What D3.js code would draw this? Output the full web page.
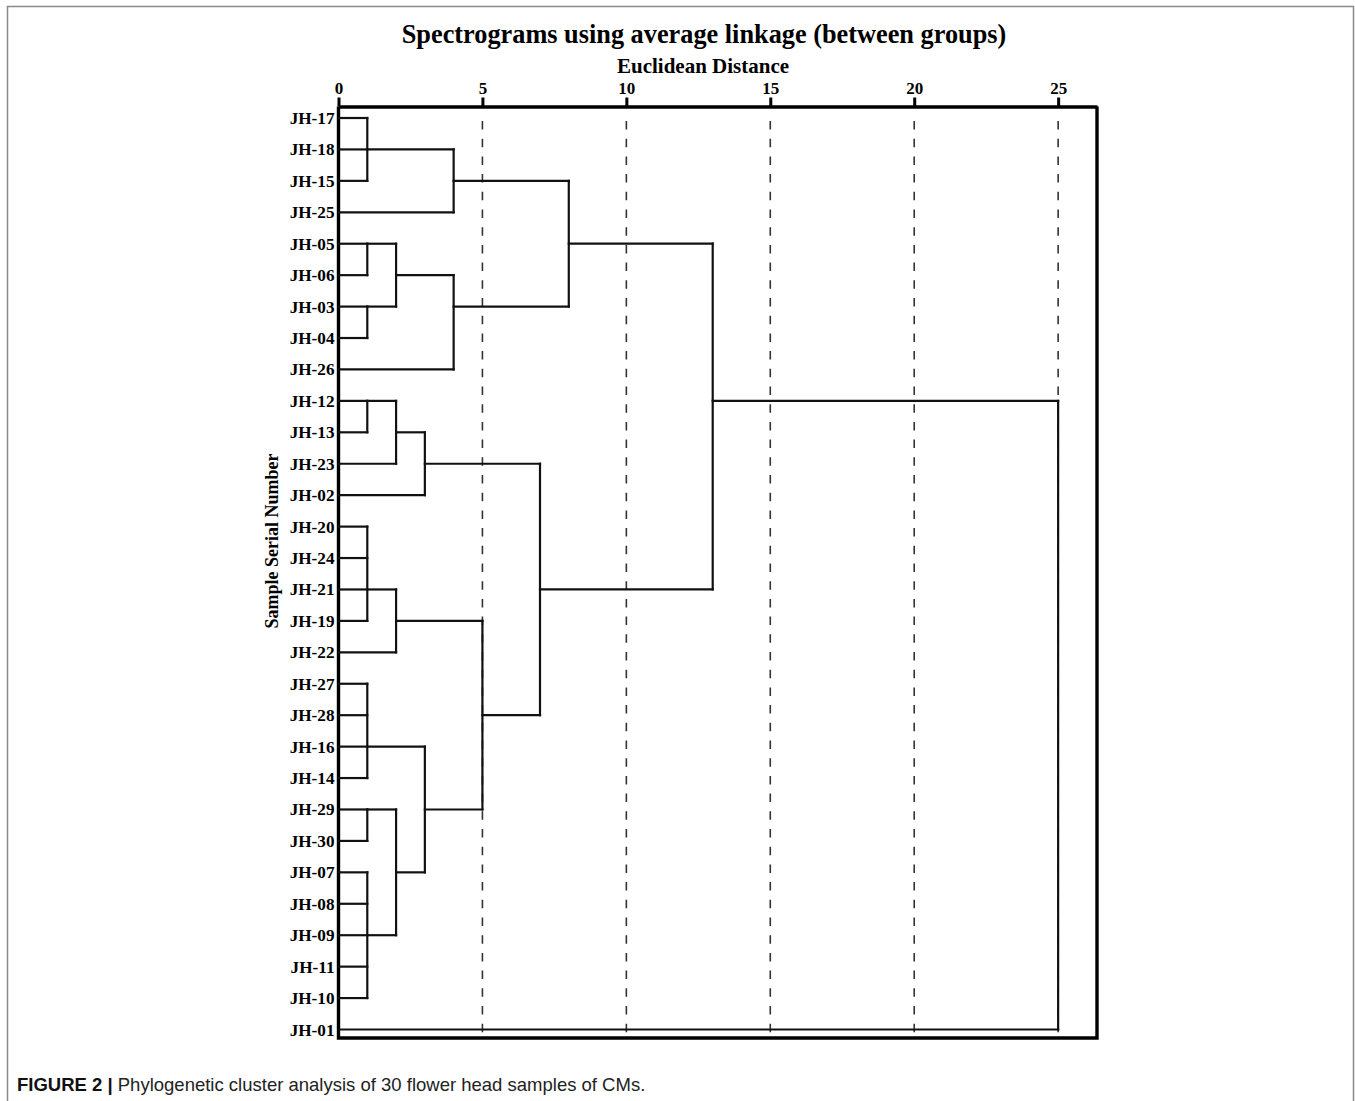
<!DOCTYPE html>
<html>
<head>
<meta charset="utf-8">
<script src="https://cdn.jsdelivr.net/npm/d3@7"></script>
<style>
  html, body { margin: 0; padding: 0; background: #fff; }
  svg { display: block; }
</style>
</head>
<body>
<svg id="chart" width="1355" height="1101"></svg>
<script>
// Leaf order, top to bottom
const leaves = [
  "JH-17", "JH-18", "JH-15", "JH-25", "JH-05", "JH-06", "JH-03", "JH-04", "JH-26",
  "JH-12", "JH-13", "JH-23", "JH-02", "JH-20", "JH-24", "JH-21", "JH-19", "JH-22",
  "JH-27", "JH-28", "JH-16", "JH-14", "JH-29", "JH-30", "JH-07", "JH-08", "JH-09",
  "JH-11", "JH-10", "JH-01"
];

// Cluster merges: [id, members, rescaled distance, leaf row where the cluster's stem leaves]
const merges = [
  ["A", ["JH-17", "JH-18", "JH-15"], 1, "JH-18"],
  ["B", ["A", "JH-25"], 4, "JH-15"],
  ["C", ["JH-05", "JH-06"], 1, "JH-05"],
  ["D", ["JH-03", "JH-04"], 1, "JH-03"],
  ["E", ["C", "D"], 2, "JH-06"],
  ["F", ["E", "JH-26"], 4, "JH-03"],
  ["G", ["B", "F"], 8, "JH-05"],
  ["H", ["JH-12", "JH-13"], 1, "JH-12"],
  ["I", ["H", "JH-23"], 2, "JH-13"],
  ["J", ["I", "JH-02"], 3, "JH-23"],
  ["K", ["JH-20", "JH-24", "JH-21", "JH-19"], 1, "JH-21"],
  ["L", ["K", "JH-22"], 2, "JH-19"],
  ["M", ["JH-27", "JH-28", "JH-16", "JH-14"], 1, "JH-16"],
  ["N", ["JH-29", "JH-30"], 1, "JH-29"],
  ["O", ["JH-07", "JH-08", "JH-09", "JH-11", "JH-10"], 1, "JH-09"],
  ["P", ["N", "O"], 2, "JH-07"],
  ["Q", ["M", "P"], 3, "JH-29"],
  ["R", ["L", "Q"], 5, "JH-28"],
  ["S", ["J", "R"], 7, "JH-21"],
  ["T", ["G", "S"], 13, "JH-12"],
  ["U", ["T", "JH-01"], 25, null]
];

const distanceTicks = [0, 5, 10, 15, 20, 25];
const gridTicks = [5, 10, 15, 20, 25];

const titleText = "Spectrograms using average linkage (between groups)";
const xTitle = "Euclidean Distance";
const yTitle = "Sample Serial Number";
const captionLead = "FIGURE 2 |";
const captionBody = " Phylogenetic cluster analysis of 30 flower head samples of CMs.";

const serif = "'Liberation Serif', 'Times New Roman', serif";
const sans = "'Liberation Sans', Arial, sans-serif";

const svg = d3.select("#chart");

// Outer figure frame
svg.append("path")
  .attr("d", "M7.5,1101 V6.5 H1353.5 V1101")
  .attr("fill", "none")
  .attr("stroke", "#8a8a8a")
  .attr("stroke-width", 1.5);

const box = { left: 338.5, right: 1097, top: 106.5, bottom: 1038 };

const x = d3.scaleLinear().domain([0, 26.35]).range([box.left, box.right]);
const y = d3.scalePoint().domain(leaves).range([118, 1029.5]);

// Dashed reference lines
svg.append("g").selectAll("line").data(gridTicks).join("line")
  .attr("x1", d => x(d)).attr("x2", d => x(d))
  .attr("y1", 121).attr("y2", box.bottom)
  .attr("stroke", "#333")
  .attr("stroke-width", 1.6)
  .attr("stroke-dasharray", "8.5 9.2");

// Plot frame
svg.append("path")
  .attr("d", `M${box.left},${box.top} V${box.bottom} H${box.right} V${box.top}`)
  .attr("fill", "none")
  .attr("stroke", "#000")
  .attr("stroke-width", 3.4);

// Distance axis along the top
const axis = d3.axisTop(x).tickValues(distanceTicks).tickSize(9).tickSizeOuter(0).tickPadding(4);
const gAxis = svg.append("g").attr("transform", `translate(0,${box.top})`).call(axis);
gAxis.select(".domain").attr("stroke", "#000").attr("stroke-width", 3.4);
gAxis.selectAll(".tick line").attr("stroke", "#000").attr("stroke-width", 3);
gAxis.selectAll(".tick text")
  .attr("fill", "#000")
  .style("font-family", serif)
  .style("font-weight", "bold")
  .style("font-size", "17px");

// Leaf labels
const gLeaves = svg.append("g").attr("transform", `translate(${box.left},0)`)
  .call(d3.axisLeft(y).tickSize(0).tickPadding(4));
gLeaves.select(".domain").remove();
gLeaves.selectAll(".tick text")
  .attr("fill", "#000")
  .style("font-family", serif)
  .style("font-weight", "bold")
  .style("font-size", "17.2px");

// Build dendrogram segments
const nodeInfo = new Map();
leaves.forEach(l => nodeInfo.set(l, { height: 0, row: l }));
merges.forEach(([id, members, h, row]) => nodeInfo.set(id, { height: h, row, members }));

const segs = [];
merges.forEach(([id, members, h]) => {
  const ys = members.map(m => y(nodeInfo.get(m).row));
  segs.push({ x1: x(h), x2: x(h), y1: d3.min(ys), y2: d3.max(ys) });
  members.forEach(m => {
    const info = nodeInfo.get(m);
    segs.push({ x1: x(info.height), x2: x(h), y1: y(info.row), y2: y(info.row) });
  });
});

svg.append("g").selectAll("line").data(segs).join("line")
  .attr("x1", d => d.x1).attr("x2", d => d.x2)
  .attr("y1", d => d.y1).attr("y2", d => d.y2)
  .attr("stroke", "#111")
  .attr("stroke-width", 2.2)
  .attr("stroke-linecap", "square");

// Titles
svg.append("text")
  .attr("x", 704).attr("y", 43)
  .attr("text-anchor", "middle")
  .style("font-family", serif).style("font-weight", "bold").style("font-size", "26.3px")
  .text(titleText);

svg.append("text")
  .attr("x", 703).attr("y", 73)
  .attr("text-anchor", "middle")
  .style("font-family", serif).style("font-weight", "bold").style("font-size", "21px")
  .text(xTitle);

svg.append("text")
  .attr("transform", "translate(278,541) rotate(-90)")
  .attr("text-anchor", "middle")
  .style("font-family", serif).style("font-weight", "bold").style("font-size", "18px")
  .text(yTitle);

// Caption
const cap = svg.append("text")
  .attr("x", 17).attr("y", 1091)
  .style("font-family", sans).style("font-size", "18.5px").attr("fill", "#222");
cap.append("tspan").style("font-weight", "bold").attr("fill", "#111").text(captionLead);
cap.append("tspan").text(captionBody);
</script>
</body>
</html>
